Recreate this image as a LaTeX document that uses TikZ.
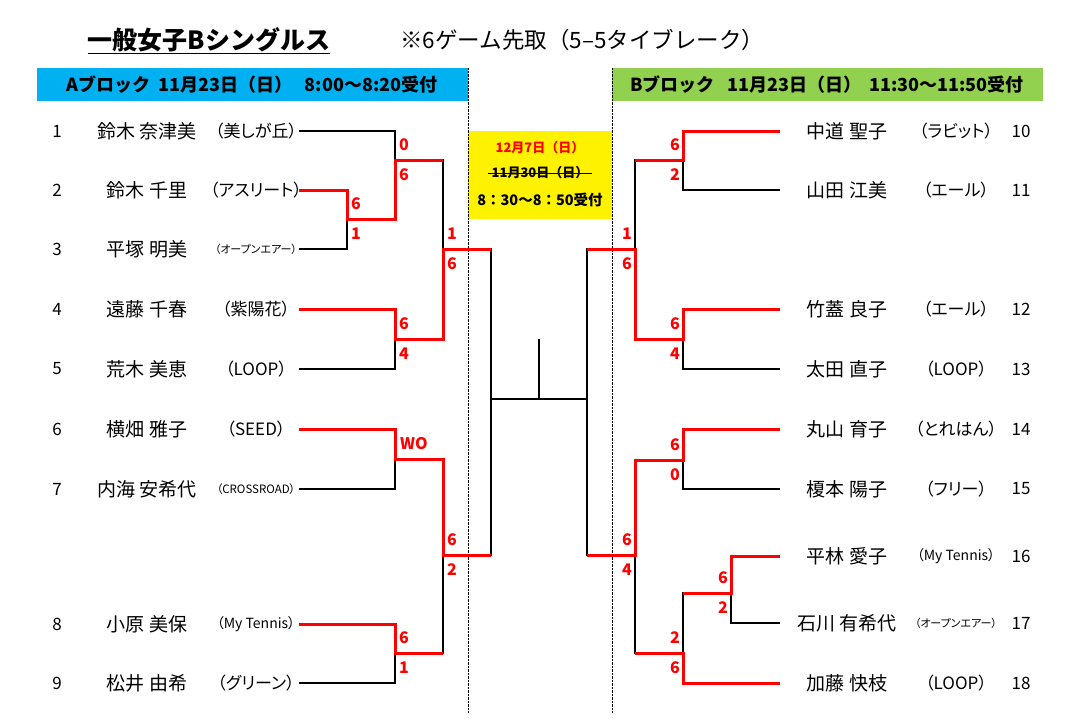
\documentclass[tikz,border=0pt]{standalone}
\usepackage{fontspec}
\setmainfont{Noto Sans CJK JP}
\newfontfamily\clubfont{Noto Sans CJK JP}[RawFeature=+palt]
\usepackage{tikz}
\definecolor{blkblue}{HTML}{00B0F0}
\definecolor{blkgreen}{HTML}{92D050}
\newcommand\fs[1]{\fontsize{#1}{#1}\selectfont}

\begin{document}
\begin{tikzpicture}[x=1pt,y=-1pt,
  win/.style={draw=red,line width=3pt},
  lose/.style={draw=black,line width=2pt},
  score/.style={text=red,font=\bfseries\fs{16}},
  num/.style={font=\fs{17}},
  pname/.style={font=\fs{19}},
  club/.style={font=\clubfont\fs{17}},
  hdr/.style={minimum width=431pt,minimum height=33pt,inner sep=0pt,font=\bfseries\fs{18}},
  sep/.style={densely dotted,thin}]
\useasboundingbox (0,0) rectangle (1092,726);
\node[font=\bfseries\fs{25},inner sep=0pt] (title) at (209,40) {一般女子Bシングルス};
\draw[line width=1.5pt] ([yshift=-1pt]title.south west) -- ([yshift=-1pt]title.south east);
\node[font=\fs{22.5},anchor=west,inner sep=0pt] (rule) at (400,40) {※6ゲーム先取（5–5タイブレーク）};
\node[hdr,fill=blkblue] (blkA) at (252,84.5) {Aブロック\ \ 11月23日（日）\ \ \ 8:00～8:20受付};
\node[hdr,fill=blkgreen] (blkB) at (827,84.5) {Bブロック\ \ \ 11月23日（日）\ \ 11:30～11:50受付};
\fill[yellow] (468,131) rectangle (612,219);
\node[font=\bfseries\fs{13},text=red] (newday) at (540,148) {12月7日（日）};
\node[font=\bfseries\fs{13}] (oldday) at (540,173) {11月30日（日）};
\draw[line width=1pt] (oldday.west) -- (oldday.east);
\node[font=\bfseries\fs{14.5}] (recept) at (540,200) {8：30～8：50受付};
\draw[sep] (468,68) -- (468,713);
\draw[sep] (612,68) -- (612,713);

\foreach \n/\y/\nm/\cl in {1/131/鈴木 奈津美/（美しが丘）, 2/190/鈴木 千里/（アスリート）,
  3/249/平塚 明美/{\fs{11}（オープンエアー）}, 4/309/遠藤 千春/（紫陽花）, 5/369/荒木 美恵/（LOOP）,
  6/429/横畑 雅子/（SEED）, 7/489/内海 安希代/{\fs{11.5}（CROSSROAD）},
  8/624/小原 美保/{\fs{14}（My Tennis）}, 9/683/松井 由希/（グリーン）}
{
  \node[num] (num\n) at (57,\y) {\n};
  \node[pname] (name\n) at (147,\y) {\nm};
  \node[club] (club\n) at (256,\y) {\cl};
  \coordinate (l\n) at (299,\y);
}
\foreach \n/\y/\nm/\cl in {10/131/中道 聖子/（ラビット）, 11/190/山田 江美/（エール）,
  12/309/竹蓋 良子/（エール）, 13/369/太田 直子/（LOOP）, 14/429/丸山 育子/（とれはん）,
  15/489/榎本 陽子/（フリー）, 16/556/平林 愛子/{\fs{14}（My Tennis）},
  17/623/石川 有希代/{\fs{11}（オープンエアー）}, 18/683/加藤 快枝/（LOOP）}
{
  \node[pname] (name\n) at (847,\y) {\nm};
  \node[club] (club\n) at (956,\y) {\cl};
  \node[num] (num\n) at (1021,\y) {\n};
  \coordinate (r\n) at (780,\y);
}

\coordinate (a23) at (347,219);
\coordinate (a1) at (395,160);
\coordinate (a45) at (395,339);
\coordinate (aq1) at (443,249);
\coordinate (a67) at (395,459);
\coordinate (a89) at (395,653);
\coordinate (aq2) at (443,555);
\coordinate (fl) at (491,399);
\coordinate (fr) at (587,399);
\coordinate (ftop) at (539,339);
\coordinate (b1011) at (683,160);
\coordinate (b1213) at (683,339);
\coordinate (bq1) at (635,249);
\coordinate (b1415) at (683,460);
\coordinate (b1617) at (731,593);
\coordinate (b18) at (683,653);
\coordinate (bq2) at (635,555);

\draw[lose] (l1) -| (a1);
\draw[lose] (l3) -| (a23);
\draw[lose] (l5) -| (a45);
\draw[lose] (l7) -| (a67);
\draw[lose] (l9) -| (a89);
\draw[lose] (a1) -| (aq1);
\draw[lose] (a89) -| (aq2);
\draw[lose] (aq1) -| (fl);
\draw[lose] (aq2) -| (fl);
\draw[lose] (fl) -- (fr);
\draw[lose] (ftop) -- (ftop |- fl);
\draw[lose] (bq1) -| (fr);
\draw[lose] (bq2) -| (fr);
\draw[lose] (r11) -| (b1011);
\draw[lose] (r13) -| (b1213);
\draw[lose] (r15) -| (b1415);
\draw[lose] (r17) -| (b1617);
\draw[lose] (b1011) -| (bq1);
\draw[lose] (b1617) -| (b18);
\draw[lose] (b18) -| (bq2);

\draw[win] (l2) -| (a23) -| (a1) -- (a1 -| aq1);
\draw[win] (l4) -| (a45) -| (aq1) -- (aq1 -| fl);
\draw[win] (l6) -| (a67) -| (aq2) -- (aq2 -| fl);
\draw[win] (l8) -| (a89) -- (a89 -| aq2);
\draw[win] (r10) -| (b1011) -- (b1011 -| bq1);
\draw[win] (r12) -| (b1213) -| (bq1) -- (bq1 -| fr);
\draw[win] (r14) -| (b1415) -| (bq2) -- (bq2 -| fr);
\draw[win] (r16) -| (b1617) -- (b1617 -| b18);
\draw[win] (r18) -| (b18) -- (b18 -| bq2);

\foreach \j/\dx/\hi/\lo in {a23/9/6/1, a1/9/0/6, a45/9/6/4, aq1/9/1/6, aq2/9/6/2, a89/9/6/1,
  b1011/-8/6/2, bq1/-8/1/6, b1213/-8/6/4, b1415/-8/6/0, bq2/-8/6/4, b1617/-8/6/2, b18/-8/2/6}
{
  \node[score] (hi\j) at ([xshift=\dx pt,yshift=15pt]\j) {\hi};
  \node[score] (lo\j) at ([xshift=\dx pt,yshift=-15pt]\j) {\lo};
}
\node[score] (wo) at ([xshift=19pt,yshift=15pt]a67) {WO};
\end{tikzpicture}
\end{document}
